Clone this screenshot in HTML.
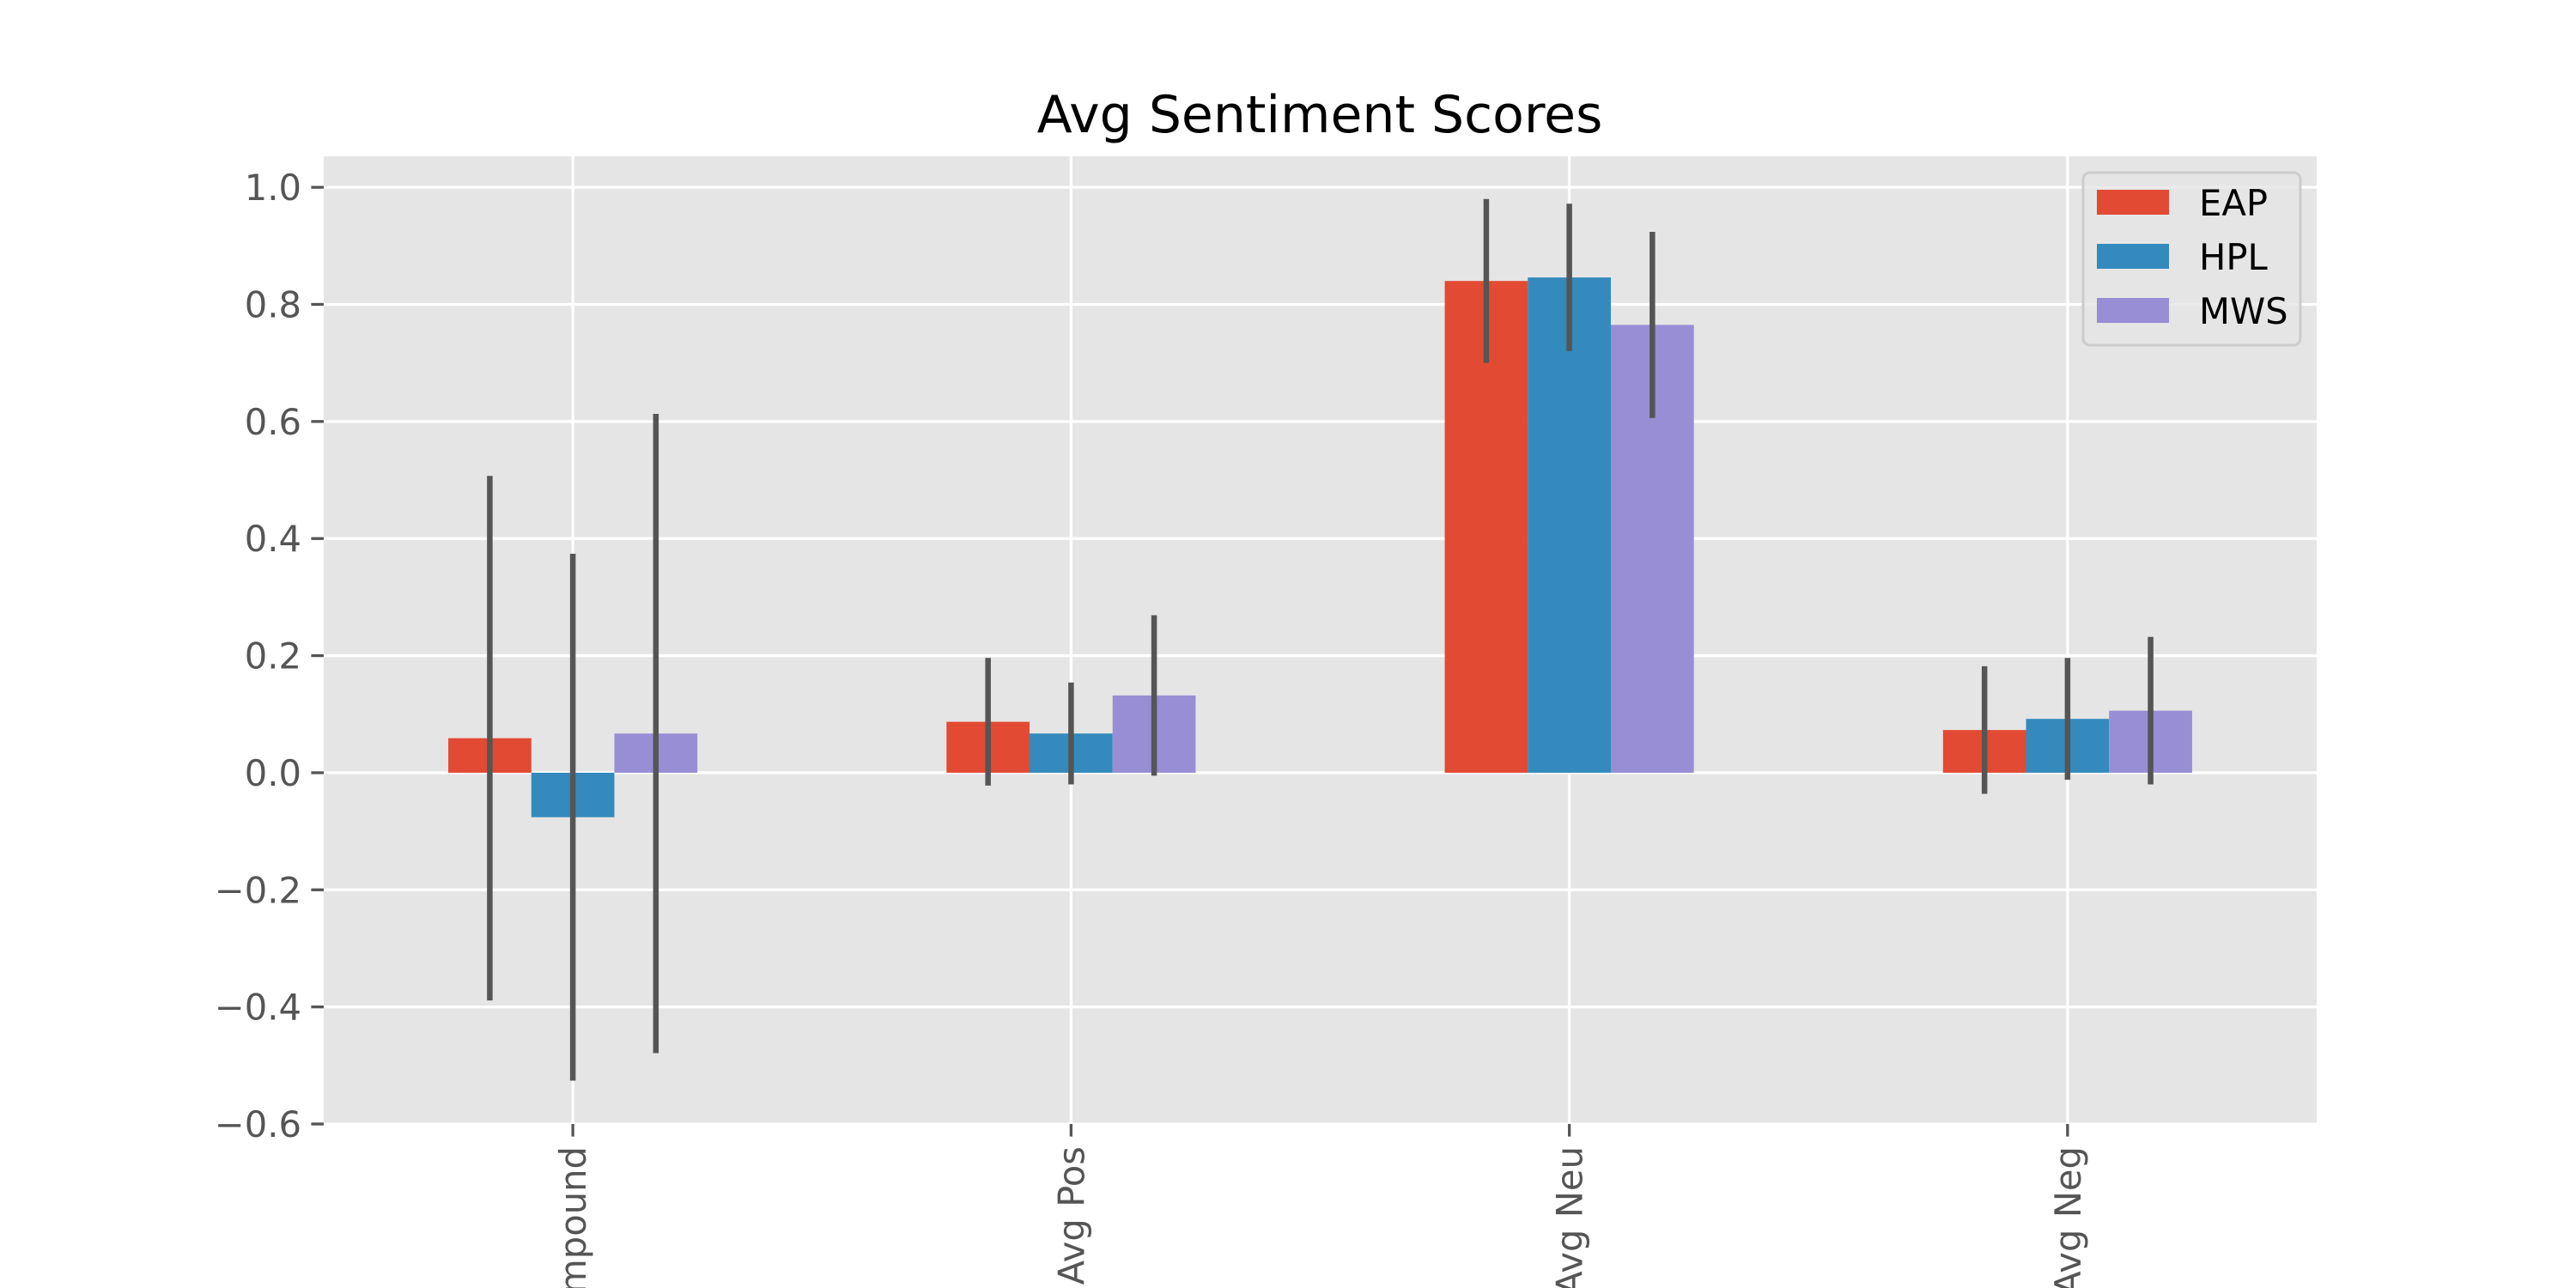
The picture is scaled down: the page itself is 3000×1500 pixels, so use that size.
<!DOCTYPE html>
<html><head><meta charset="utf-8"><style>html,body{margin:0;padding:0;background:#fff;width:3000px;height:1500px;overflow:hidden}svg{display:block;overflow:hidden}</style></head>
<body>
<svg id="chart" width="3000" height="1500" xmlns="http://www.w3.org/2000/svg" font-family="DejaVu Sans, Liberation Sans, sans-serif">
<rect x="0" y="0" width="3000" height="1500" fill="#fff"/>
<text x="1537" y="154" font-size="60" text-anchor="middle" fill="#000">Avg Sentiment Scores</text>
<g id="plot"></g>
</svg>
<script>
const categories = ["Avg Compound", "Avg Pos", "Avg Neu", "Avg Neg"];
const seriesNames = ["EAP", "HPL", "MWS"];
const eapValues = [0.059, 0.087, 0.840, 0.073];
const hplValues = [-0.076, 0.067, 0.846, 0.092];
const mwsValues = [0.067, 0.132, 0.765, 0.106];
const eapErr = [0.448, 0.109, 0.140, 0.109];
const hplErr = [0.450, 0.087, 0.126, 0.104];
const mwsErr = [0.546, 0.137, 0.159, 0.126];
const yTicks = [-0.6, -0.4, -0.2, 0.0, 0.2, 0.4, 0.6, 0.8, 1.0];
const yTickLabels = ["\u22120.6", "\u22120.4", "\u22120.2", "0.0", "0.2", "0.4", "0.6", "0.8", "1.0"];

const colors = ["#E24A33", "#348ABD", "#988ED5"];
const L = 377, R = 2698, T = 182, B = 1309;
const yMin = -0.6, yMax = 1.053, xMin = -0.5, xMax = 3.5;
const sx = v => L + (v - xMin) / (xMax - xMin) * (R - L);
const sy = v => B - (v - yMin) / (yMax - yMin) * (B - T);
const NS = "http://www.w3.org/2000/svg";
const g = document.getElementById('plot');
function mk(tag, attrs) { const e = document.createElementNS(NS, tag); for (const k in attrs) e.setAttribute(k, attrs[k]); g.appendChild(e); return e; }

let e = mk('rect', {x: L, y: T, width: R - L, height: B - T, fill: '#E5E5E5'});



yTicks.forEach((t, i) => {
  const y = sy(t);
  let gl = mk('line', {x1: L, x2: R, y1: y, y2: y, stroke: '#fff', 'stroke-width': 3.3});
  
  
  let tk = mk('line', {x1: L - 14.6, x2: L, y1: y, y2: y, stroke: '#555', 'stroke-width': 3.3});
  
  
  let tx = mk('text', {x: L - 26, y: y + 15, 'font-size': 41.7, 'text-anchor': 'end', fill: '#555'});
  tx.textContent = yTickLabels[i];
  
  
});
categories.forEach((c, i) => {
  const x = sx(i);
  let gl = mk('line', {x1: x, x2: x, y1: T, y2: B, stroke: '#fff', 'stroke-width': 3.3});
  
  
});

const vals = [eapValues, hplValues, mwsValues];
const errs = [eapErr, hplErr, mwsErr];
const bw = 0.5 / 3;
vals.forEach((arr, s) => {
  arr.forEach((v, i) => {
    const x0 = i - 0.25 + s * bw;
    const y0 = sy(Math.max(v, 0)), y1 = sy(Math.min(v, 0));
    let r = mk('rect', {x: sx(x0), y: y0, width: sx(x0 + bw) - sx(x0), height: y1 - y0, fill: colors[s]});
    
    
  });
});
vals.forEach((arr, s) => {
  arr.forEach((v, i) => {
    const xc = sx(i - 0.25 + (s + 0.5) * bw);
    let l = mk('line', {x1: xc, x2: xc, y1: sy(v + errs[s][i]), y2: sy(v - errs[s][i]), stroke: '#555', 'stroke-width': 6.5});
    
    
  });
});

categories.forEach((c, i) => {
  const x = sx(i);
  let tk = mk('line', {x1: x, x2: x, y1: B, y2: B + 14.6, stroke: '#555', 'stroke-width': 3.3});
  
  
  let tx = mk('text', {x: 0, y: 0, 'font-size': 41.7, 'text-anchor': 'end', fill: '#555', transform: `translate(${x + 15},${B + 26}) rotate(-90)`});
  tx.textContent = c;
  
  
});

let lg = mk('rect', {x: 2426, y: 201, width: 253, height: 201, rx: 8, fill: '#E5E5E5', 'fill-opacity': 0.8, stroke: '#CCCCCC', 'stroke-width': 3});


seriesNames.forEach((n, s) => {
  const y = 221 + s * 63;
  let p = mk('rect', {x: 2442, y: y, width: 84, height: 29, fill: colors[s]});
  
  
  let t = mk('text', {x: 2561, y: y + 30, 'font-size': 41.7, fill: '#000'});
  t.textContent = n;
  
  
});
</script>
</body></html>
